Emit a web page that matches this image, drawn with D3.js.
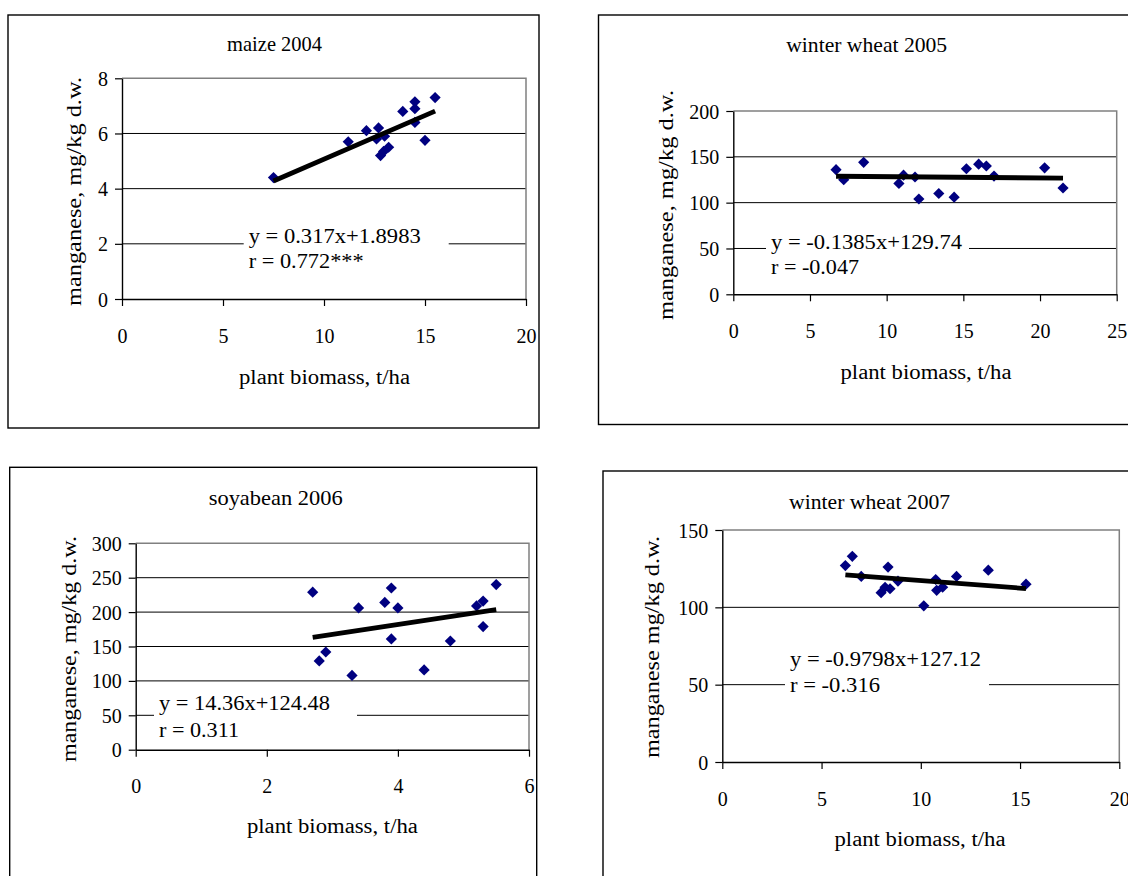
<!DOCTYPE html>
<html lang="en">
<head>
    <meta charset="UTF-8">
    <title>Manganese vs plant biomass</title>
    <script src="https://d3js.org/d3.v7.min.js"></script>
    <style>
        body {
            margin: 0;
            background: #fff;
            overflow: hidden;
        }
        svg text {
            font-family: "Liberation Serif", "Times New Roman", serif;
            fill: #000;
        }
    </style>
</head>
<body>
    <script>
        // Data
        const maizeBiomass = [7.5, 11.2, 12.1, 12.7, 12.6, 13.0, 12.8, 12.95, 13.2, 13.9, 14.5, 14.5, 14.5, 15.0, 15.5];
        const maizeMn = [4.4, 5.7, 6.1, 6.2, 5.8, 5.9, 5.2, 5.35, 5.5, 6.8, 7.15, 6.9, 6.4, 5.75, 7.3];

        const wheat05Biomass = [6.7, 7.2, 8.5, 10.8, 11.1, 11.85, 12.1, 13.4, 14.4, 15.2, 16.0, 16.5, 17.0, 20.3, 21.5];
        const wheat05Mn = [136, 125, 144, 121, 130, 128, 104, 110, 106, 137, 142, 140, 129, 138, 116];

        const soyBiomass = [2.7, 2.8, 2.9, 3.3, 3.4, 3.8, 3.9, 3.9, 4.0, 4.4, 4.8, 5.2, 5.3, 5.3, 5.5];
        const soyMn = [229, 129, 142, 108, 206, 214, 235, 161, 206, 116, 158, 209, 216, 179, 240];

        const wheat07Biomass = [6.2, 6.55, 7.0, 8.0, 8.2, 8.35, 8.45, 8.85, 10.15, 10.75, 10.8, 11.1, 11.8, 13.4, 15.3];
        const wheat07Mn = [127, 133, 120, 109.5, 113, 126, 112, 117, 101, 118, 111, 113, 120, 124, 115];

        const titles = ["maize 2004", "winter wheat 2005", "soyabean 2006", "winter wheat 2007"];
        const yLabels = ["manganese, mg/kg d.w.", "manganese, mg/kg d.w.", "manganese, mg/kg d.w.", "manganese mg/kg d.w."];
        const xLabel = "plant biomass, t/ha";
        const slopes = [0.317, -0.1385, 14.36, -0.9798];
        const intercepts = [1.8983, 129.74, 124.48, 127.12];
        const eqLines = [
            ["y = 0.317x+1.8983", "r = 0.772***"],
            ["y = -0.1385x+129.74", "r = -0.047"],
            ["y = 14.36x+124.48", "r = 0.311"],
            ["y = -0.9798x+127.12", "r = -0.316"]
        ];
        const xTicks = [[0, 5, 10, 15, 20], [0, 5, 10, 15, 20, 25], [0, 2, 4, 6], [0, 5, 10, 15, 20]];
        const yTicks = [[0, 2, 4, 6, 8], [0, 50, 100, 150, 200], [0, 50, 100, 150, 200, 250, 300], [0, 50, 100, 150]];

        const W = 1128, H = 876;

        // page layout of each panel (pixels)
        const layout = [
            { box: [8, 15, 531, 413], plot: [122, 78.3, 526, 299],
              title: [274.6, 44, 95], ylab: [74, 191.5, 229], xlab: [324.5, 378, 171],
              eq: [248.7, 235.7, 260.7, 205, 172, 115] },
            { box: [598.5, 15, 560, 409.5], plot: [733.3, 111, 1116.7, 294.3],
              title: [866.7, 44.3, 161], ylab: [665.6, 205, 230], xlab: [926, 373, 171],
              eq: [771, 241.7, 266.7, 203, 191, 88] },
            { box: [9.7, 467.3, 527, 430], plot: [135.7, 543.3, 529, 749.7],
              title: [275.7, 498, 134], ylab: [68.5, 649, 226], xlab: [332.4, 826.7, 171],
              eq: [159, 702.7, 730, 203, 171, 80] },
            { box: [603, 471, 560, 430], plot: [722.3, 530, 1119.3, 762],
              title: [869.6, 501.7, 161], ylab: [652.3, 647, 222], xlab: [920, 840, 171],
              eq: [790, 658.3, 685, 204, 191, 90] }
        ];

        const panels = [
            { xs: maizeBiomass, ys: maizeMn },
            { xs: wheat05Biomass, ys: wheat05Mn },
            { xs: soyBiomass, ys: soyMn },
            { xs: wheat07Biomass, ys: wheat07Mn }
        ];

        const svg = d3.select("body").append("svg")
            .attr("width", W)
            .attr("height", H);

        const diamond = r => `M0,${-r}L${r},0L0,${r}L${-r},0Z`;

        function fitText(sel, len) {
            sel.attr("textLength", len).attr("lengthAdjust", "spacingAndGlyphs");
        }

        panels.forEach((p, i) => {
            const L = layout[i];
            const [pl, pt, pr, pb] = L.plot;
            const g = svg.append("g");

            // outer frame
            g.append("rect")
                .attr("x", L.box[0]).attr("y", L.box[1])
                .attr("width", L.box[2]).attr("height", L.box[3])
                .attr("fill", "#fff")
                .attr("stroke", "#000")
                .attr("stroke-width", 1.4);

            const xt = xTicks[i], yt = yTicks[i];
            const x = d3.scaleLinear().domain([xt[0], xt[xt.length - 1]]).range([pl, pr]);
            const y = d3.scaleLinear().domain([yt[0], yt[yt.length - 1]]).range([pb, pt]);

            // gridlines
            g.append("g").selectAll("line")
                .data(yt.slice(1, -1))
                .join("line")
                .attr("x1", pl).attr("x2", pr)
                .attr("y1", d => y(d)).attr("y2", d => y(d))
                .attr("stroke", "#000")
                .attr("stroke-width", 1);

            // plot area border (top and right, grey)
            g.append("path")
                .attr("d", `M${pl},${pt}H${pr}V${pb}`)
                .attr("fill", "none")
                .attr("stroke", "#808080")
                .attr("stroke-width", 1.5);

            // axes
            const xAxis = g.append("g")
                .attr("transform", `translate(0,${pb})`)
                .call(d3.axisBottom(x).tickValues(xt).tickSize(7).tickSizeOuter(0).tickFormat(d3.format("d")));
            xAxis.selectAll("text").attr("y", 36.5).attr("dy", "0.35em");

            const yAxis = g.append("g")
                .attr("transform", `translate(${pl},0)`)
                .call(d3.axisLeft(y).tickValues(yt).tickSize(7).tickSizeOuter(0).tickFormat(d3.format("d")));
            yAxis.selectAll("text").attr("x", -14).attr("dy", "0.35em");

            [xAxis, yAxis].forEach(a => {
                a.attr("font-family", null).attr("font-size", null);
                a.selectAll("text").style("font-size", "20px");
                a.select(".domain").attr("stroke", "#000").attr("stroke-width", 1.4);
                a.selectAll(".tick line").attr("stroke", "#000").attr("stroke-width", 1.2);
            });

            // regression label with white backing
            const [ex, e1, e2, ew, w1, w2] = L.eq;
            g.append("rect")
                .attr("x", ex - 5).attr("y", e1 - 13)
                .attr("width", ew).attr("height", e2 - e1 + 26)
                .attr("fill", "#fff");
            g.append("text")
                .attr("x", ex).attr("y", e1).attr("dy", "0.35em")
                .style("font-size", "21px")
                .text(eqLines[i][0])
                .call(fitText, w1);
            g.append("text")
                .attr("x", ex).attr("y", e2).attr("dy", "0.35em")
                .style("font-size", "21px")
                .text(eqLines[i][1])
                .call(fitText, w2);

            // points
            const pts = p.xs.map((v, k) => [v, p.ys[k]]);
            g.append("g").selectAll("path")
                .data(pts)
                .join("path")
                .attr("d", diamond(5.6))
                .attr("transform", d => `translate(${x(d[0])},${y(d[1])})`)
                .attr("fill", "#000080");

            // linear trendline over the data range
            const [x0, x1] = d3.extent(p.xs);
            g.append("line")
                .attr("x1", x(x0)).attr("y1", y(slopes[i] * x0 + intercepts[i]))
                .attr("x2", x(x1)).attr("y2", y(slopes[i] * x1 + intercepts[i]))
                .attr("stroke", "#000")
                .attr("stroke-width", 4.8);

            // titles
            g.append("text")
                .attr("x", L.title[0]).attr("y", L.title[1]).attr("dy", "0.35em")
                .attr("text-anchor", "middle")
                .style("font-size", "21px")
                .text(titles[i])
                .call(fitText, L.title[2]);

            g.append("text")
                .attr("x", L.xlab[0]).attr("y", L.xlab[1]).attr("dy", "0.3em")
                .attr("text-anchor", "middle")
                .style("font-size", "20px")
                .text(xLabel)
                .call(fitText, L.xlab[2]);

            g.append("text")
                .attr("transform", `translate(${L.ylab[0]},${L.ylab[1]}) rotate(-90)`)
                .attr("dy", "0.35em")
                .attr("text-anchor", "middle")
                .style("font-size", "20px")
                .text(yLabels[i])
                .call(fitText, L.ylab[2]);
        });
    </script>
</body>
</html>
